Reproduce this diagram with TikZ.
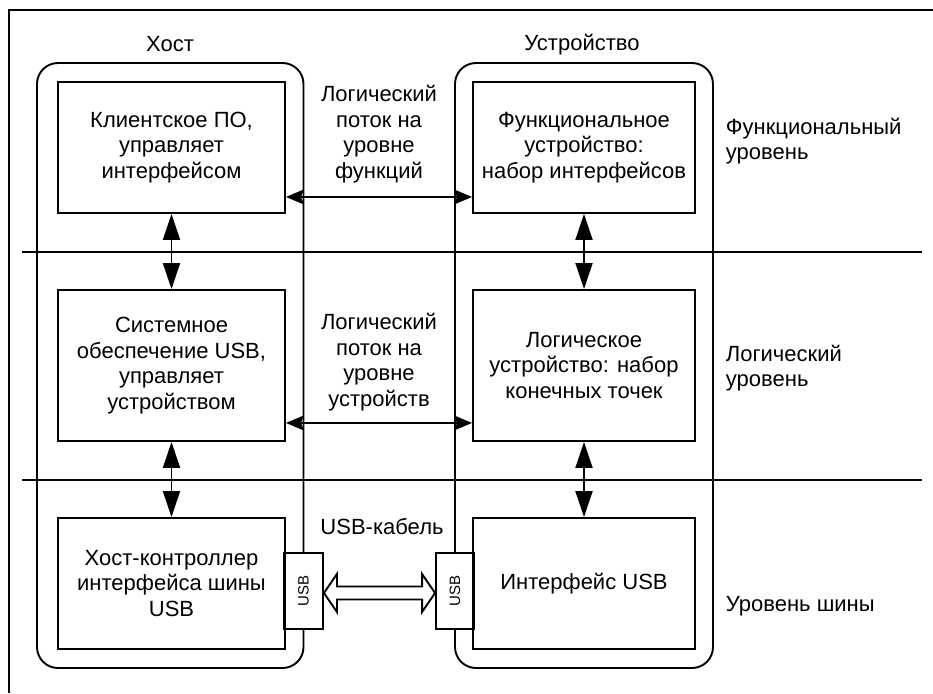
\documentclass[tikz,border=0pt]{standalone}
\usepackage{fontspec}
\setmainfont{Liberation Sans}
\usepackage{graphicx}
\usetikzlibrary{arrows.meta,calc}
\newcommand\mainfs{\fontsize{22}{25.5}\selectfont}
\newcommand\portfs{\fontsize{15}{17}\selectfont}
\begin{document}
\begin{tikzpicture}[x=1pt,y=-1pt,
  line width=1.9pt,
  box/.style={draw, rectangle, inner sep=0pt, align=center, font=\mainfs},
  portbox/.style={draw, rectangle, inner sep=0pt, font=\portfs, minimum height=76pt},
  lbl/.style={inner sep=0pt, font=\mainfs},
  harr/.style={arrows={Stealth[length=18pt,width=15pt,inset=3pt]-Stealth[length=18pt,width=15pt,inset=3pt]}},
  varr/.style={arrows={Triangle[length=26pt,width=17pt]-Triangle[length=26pt,width=17pt]}},
  layer/.style={rounded corners=21pt}
]
\useasboundingbox (0,0) rectangle (933,693);
% outer frame
\draw (9,693) -- (9,10) -- (933,10);
% level separators
\draw (22,252) -- (922,252);
\draw (22,480) -- (922,480);

% host boxes
\node[box, minimum width=227pt, minimum height=131pt] (h1) at (171.5,147.5) {Клиентское ПО,\\управляет\\интерфейсом};
\node[box, minimum width=227pt, minimum height=151pt] (h2) at (171.5,365.5) {Системное\\обеспечение USB,\\управляет\\устройством};
\node[box, minimum width=227pt, minimum height=131pt] (h3) at (171.5,583.5) {Хост-контроллер\\интерфейса шины\\USB};
% device boxes
\node[box, minimum width=222pt, minimum height=131pt] (d1) at (584,147.5) {Функциональное\\устройство:\\набор интерфейсов};
\node[box, minimum width=222pt, minimum height=151pt] (d2) at (584,365.5) {Логическое\\устройство: набор\\конечных точек};
\node[box, minimum width=222pt, minimum height=131pt] (d3) at (584,583.5) {Интерфейс USB};

% ports
\node[portbox, minimum width=39pt] (hp) at (303.5,591) {\rotatebox{90}{USB}};
\node[portbox, minimum width=38pt] (dp) at (455,591) {\rotatebox{90}{USB}};

% host and device outlines
\draw[layer] (hp.north) -- (303.5,63) -- (37,63) -- (37,668) -- (303.5,668) -- (hp.south);
\draw[layer] (dp.north) -- (455,63) -- (713,63) -- (713,668) -- (455,668) -- (dp.south);

% logical flows
\draw[harr] ($(h1.south east)+(0,-17)$) -- ($(d1.south west)+(0,-17)$);
\draw[harr] ($(h2.south east)+(0,-19)$) -- ($(d2.south west)+(0,-19)$);

% vertical arrows
\draw[varr] (h1.south) -- (h2.north);
\draw[varr] (h2.south) -- (h3.north);
\draw[varr] (d1.south) -- (d2.north);
\draw[varr] (d2.south) -- (d3.north);

% USB cable hollow arrow
\coordinate (tl) at ($(hp.east)+(0,2)$);
\coordinate (tr) at ($(dp.west)+(0,2)$);
\draw[line join=miter] (tl) -- ($(tl)+(13,-19)$) -- ($(tl)+(13,-6.5)$) -- ($(tr)+(-13,-6.5)$) -- ($(tr)+(-13,-19)$) -- (tr)
  -- ($(tr)+(-13,19)$) -- ($(tr)+(-13,6.5)$) -- ($(tl)+(13,6.5)$) -- ($(tl)+(13,19)$) -- cycle;

% labels
\node[lbl, anchor=base] (host) at (170,52) {Хост};
\node[lbl, anchor=base] (dev) at (582,51) {Устройство};
\node[lbl, align=center] (f1) at (379,134) {Логический\\поток на\\уровне\\функций};
\node[lbl, align=center] (f2) at (379,362) {Логический\\поток на\\уровне\\устройств};
\node[lbl, anchor=base] (cab) at (382,534) {USB-кабель};
\node[lbl, align=left, anchor=west] (l1) at (725,141) {Функциональный\\уровень};
\node[lbl, align=left, anchor=west] (l2) at (725,368) {Логический\\уровень};
\node[lbl, anchor=base west] (l3) at (725,611) {Уровень шины};
\end{tikzpicture}
\end{document}
